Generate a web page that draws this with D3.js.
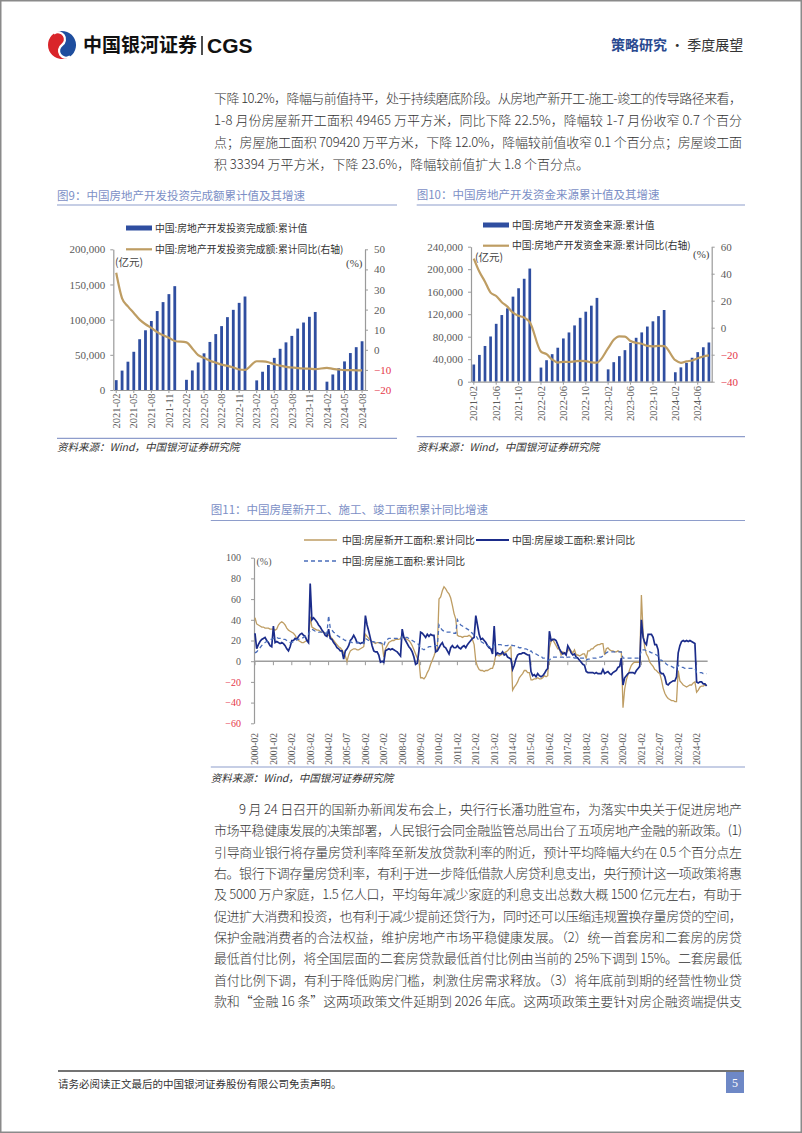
<!DOCTYPE html>
<html><head><meta charset="utf-8">
<script src="https://cdn.jsdelivr.net/npm/d3@7"></script>
<style>body{margin:0;background:#fff}svg{display:block}</style>
</head><body><svg id="c" width="802" height="1133"></svg>
<script>
// ---------------- DATA ----------------
const cats = ["2021-02","2021-03","2021-04","2021-05","2021-06","2021-07","2021-08","2021-09","2021-10","2021-11","2021-12",
"2022-01","2022-02","2022-03","2022-04","2022-05","2022-06","2022-07","2022-08","2022-09","2022-10","2022-11","2022-12",
"2023-01","2023-02","2023-03","2023-04","2023-05","2023-06","2023-07","2023-08","2023-09","2023-10","2023-11","2023-12",
"2024-01","2024-02","2024-03","2024-04","2024-05","2024-06","2024-07","2024-08"];
const investValue = [13986,27576,40240,54318,72179,84895,98060,112231,124934,136275,147602,
null,14499,27765,39154,52134,68314,79462,90809,103559,113945,123863,132895,
null,13669,25974,35514,45701,58550,67717,76900,87269,95922,104045,110913,
null,11842,22082,30928,40632,52529,60877,69284];
const investYoY = [38.3,25.6,21.6,18.3,15.0,12.7,10.9,8.8,7.2,6.0,4.4,
null,3.7,0.7,-2.7,-4.0,-5.4,-6.4,-7.4,-8.0,-8.8,-9.8,-10.0,
null,-5.7,-5.8,-6.2,-7.2,-7.9,-8.5,-8.8,-9.1,-9.3,-9.4,-9.6,
null,-9.0,-9.5,-9.8,-10.1,-10.1,-10.2,-10.2];
const fundsValue = [30563,47625,63508,80392,102898,118485,130400,151209,166134,182984,201132,
null,25143,38208,48934,60413,76880,87556,100033,113542,124455,135164,148979,
null,21962,34697,45425,56091,68797,78080,87616,98067,107345,116555,127459,
null,16803,25455,33508,42571,52546,61243,69740];
const fundsYoY = [51.2,41.4,34.1,26.0,23.5,18.9,15.6,11.1,8.8,7.5,4.2,
null,-17.7,-19.6,-23.6,-25.8,-25.3,-25.4,-25.0,-24.5,-24.7,-25.7,-25.9,
null,-15.2,-9.0,-6.4,-6.6,-9.8,-11.2,-11.9,-13.5,-13.8,-13.4,-13.6,
null,-24.1,-26.0,-24.9,-24.3,-22.6,-21.3,-20.5];
const ticks9 = ["2021-02","2021-05","2021-08","2021-11","2022-02","2022-05","2022-08","2022-11","2023-02","2023-05","2023-08","2023-11","2024-02","2024-05","2024-08"];
const ticks10 = ["2021-02","2021-06","2021-10","2022-02","2022-06","2022-10","2023-02","2023-06","2023-10","2024-02","2024-06"];

// Figure 11: monthly cumulative YoY (Feb..Dec each year, 2000-02 .. 2024-08)
const startsYoY = [
42,36,35,34,33,33,32,32,32,31,31,
31,30,31,35,37,38,37,35,32,30,29,
28,27,25,22,20,19,18,18,19,20,21,
43,33,32,31,30,30,29,28,28,27,26,
25,24,22,20,18,16,14,13,11,8,5,
0,6,10,11,12,12,11,11,12,13,14,
26,24,22,20,19,18,17,18,18,17,17,
4,12,15,18,19,20,20,21,21,21,22,
26,23,22,21,20,18,15,11,7,3,1,
-16,-16,-17,-15,-11,-8,-3,1,5,10,12,
60,62,68,72,70,67,65,61,54,46,41,
25,24,24,23,24,24,24,25,24,21,16,
0,-5,-8,-9,-9,-10,-9,-9,-8,-7,-7,
-2,7,6,5,6,7,8,9,10,12,14,
-28,-25,-23,-20,-16,-14,-12,-9,-9,-11,-11,
-18,-18,-17,-17,-16,-17,-17,-16,-14,-15,-14,
13,19,21,18,15,12,12,6,9,8,8,
10,12,10,8,11,6,6,5,6,7,7,
3,10,10,12,12,14,15,16,16,17,17,
6,12,13,11,10,10,9,9,10,9,9,
-45,-27,-18,-13,-8,-4,-2,-1,-1,-1,-1,
64,28,13,7,4,-1,-3,-5,-8,-9,-11,
-12,-18,-26,-31,-34,-36,-37,-38,-38,-39,-39,
-9,-19,-21,-23,-24,-25,-24,-23,-23,-21,-20,
-30,-28,-25,-24,-24,-23,-23];
const completedYoY = [
27,12,16,19,21,22,23,20,18,15,14,
34,18,19,18,17,18,17,15,12,10,14,
20,20,22,21,24,26,27,25,24,20,18,
75,40,42,40,38,35,33,30,28,25,24,
31,22,21,18,16,13,12,10,10,2,10,
12,15,20,22,25,22,18,18,17,18,18,
44,35,29,22,15,10,9,9,6,-1,0,
-1,10,11,12,11,12,11,10,9,7,5,
31,23,20,17,14,12,9,4,-3,-2,10,
28,27,25,23,26,24,26,25,25,9,10,
13,16,18,14,13,10,7,13,15,13,13,
15,13,12,14,15,13,16,18,20,22,23,
44,35,26,21,22,20,18,15,13,12,7,
34,6,8,7,7,9,6,7,4,3,2,
-8,-4,2,6,7,7,8,8,7,6,6,
-10,-14,-13,-15,-12,-14,-15,-14,-12,-9,-7,
29,20,21,21,20,16,12,9,7,8,6,
15,12,8,6,7,4,3,1,-1,-3,-4,
-10,-11,-11,-11,-11,-12,-11,-12,-12,-12,-8,
-12,-11,-10,-12,-13,-11,-10,-9,-6,-5,3,
-23,-16,-14,-12,-11,-11,-11,-12,-9,-7,-5,
40,23,18,16,26,26,26,23,16,16,11,
-10,-12,-12,-15,-22,-23,-21,-20,-19,-19,-15,
8,15,19,20,19,20,19,20,19,18,17,
-20,-21,-20,-20,-22,-22,-24];
const constructYoY = [
8,9,11,13,15,17,18,19,20,21,21,
22,22,23,22,22,22,21,21,20,19,18,
18,19,20,21,21,22,22,23,24,25,26,
30,31,30,29,29,28,28,28,27,27,27,
44,32,30,28,27,25,24,23,22,21,20,
20,19,19,18,18,18,18,18,18,18,17,
22,21,20,19,19,19,18,18,18,18,17,
15,20,21,22,22,22,22,22,22,21,21,
24,24,23,23,22,21,20,19,18,17,16,
12,12,11,12,13,14,14,15,15,15,15,
35,32,30,29,28,28,28,28,27,27,27,
40,37,35,34,33,32,31,30,28,27,25,
25,22,20,19,18,17,16,15,14,14,13,
16,16,16,16,16,15,15,15,15,16,16,
15,15,14,14,13,13,12,12,12,11,9,
10,8,8,7,6,5,5,3,3,2,1,
1,3,4,4,4,4,4,4,4,3,3,
4,4,4,4,3,3,3,3,3,3,3,
1,2,2,2,3,3,3,4,4,4,5,
7,8,9,9,9,9,9,9,9,9,9,
3,3,3,3,3,3,3,3,3,3,4,
11,11,11,10,10,9,8,8,7,6,5,
1,1,0,-1,-3,-4,-5,-5,-6,-7,-7,
-4,-5,-6,-6,-7,-7,-7,-7,-7,-7,-7,
-11,-11,-11,-11,-12,-12,-12];
const ticks11 = ["2000-02","2001-02","2002-02","2003-02","2004-02","2005-07","2006-02","2007-02","2008-02","2009-02","2010-02","2011-02","2012-02","2013-02","2014-02","2015-02","2016-02","2017-02","2018-02","2019-02","2020-02","2021-02","2022-07","2023-02","2024-02"];

// ---------------- STYLE ----------------
const CJK = "'Noto Sans CJK SC','Noto Sans',sans-serif";
const SERIF = "'Liberation Serif','DejaVu Serif',serif";
const BAR = "#2F4EA0", TAN = "#BE9D63", NAVY = "#1B2C8A", DASH = "#4A6DBA";
const AX = "#9a9a9a", LBL = "#5a5a5a", RED = "#E5374A", TITLE = "#7C8FC6", RULE = "#8E9DCB";

const svg = d3.select("#c");
svg.append("rect").attr("width",802).attr("height",1133).attr("fill","#fff");
svg.append("rect").attr("x",0.75).attr("y",0.75).attr("width",800.5).attr("height",1131.5)
  .attr("fill","none").attr("stroke","#8a8a8a").attr("stroke-width",1.5);

// ---------------- HEADER ----------------
const logo = svg.append("g").attr("transform","translate(62,45) rotate(-35)");
logo.append("path").attr("d","M0,-14 A14,14 0 0,0 0,14 A7,7 0 0,1 0,0 A7,7 0 0,0 0,-14 Z").attr("fill","#D9252A");
logo.append("path").attr("d","M0,-14 A14,14 0 0,1 0,14 A7,7 0 0,1 0,0 A7,7 0 0,0 0,-14 Z").attr("fill","#1F4E9E");
logo.append("path").attr("d","M0,-14 A7,7 0 0,1 0,0 A7,7 0 0,0 0,14").attr("fill","none").attr("stroke","#fff").attr("stroke-width",2.2);
svg.append("text").attr("x",83).attr("y",52).text("中国银河证券")
  .attr("font-family",CJK).attr("font-weight",700).attr("font-size",19).attr("fill","#111");
svg.append("line").attr("x1",202).attr("x2",202).attr("y1",36).attr("y2",55).attr("stroke","#222").attr("stroke-width",1.6);
svg.append("text").attr("x",207).attr("y",53).text("CGS")
  .attr("font-family","'Liberation Sans',Arial,sans-serif").attr("font-weight",700).attr("font-size",21).attr("fill","#111");
const hr = svg.append("text").attr("x",611).attr("y",50).attr("font-family",CJK).attr("font-size",14);
hr.append("tspan").text("策略研究").attr("font-weight",700).attr("fill","#2A4A90");
hr.append("tspan").text(" · 季度展望").attr("fill","#333");

// ---------------- BODY TEXT ----------------
function para(lines, y0, step, lastJustified){
  lines.forEach((l,i)=>{
    const t = svg.append("text").attr("x", l.x).attr("y", y0 + i*step).text(l.s)
      .attr("font-family",CJK).attr("font-size",13).attr("font-weight",300).attr("fill","#333");
    if (i < lines.length-1 || lastJustified) t.attr("textLength", 742 - l.x).attr("lengthAdjust","spacing");
  });
}
para([
 {x:214,s:"下降 10.2%，降幅与前值持平，处于持续磨底阶段。从房地产新开工-施工-竣工的传导路径来看，"},
 {x:214,s:"1-8 月份房屋新开工面积 49465 万平方米，同比下降 22.5%，降幅较 1-7 月份收窄 0.7 个百分"},
 {x:214,s:"点；房屋施工面积 709420 万平方米，下降 12.0%，降幅较前值收窄 0.1 个百分点；房屋竣工面"},
 {x:214,s:"积 33394 万平方米，下降 23.6%，降幅较前值扩大 1.8 个百分点。"}
], 103, 21.9, false);
para([
 {x:239,s:"9 月 24 日召开的国新办新闻发布会上，央行行长潘功胜宣布，为落实中央关于促进房地产"},
 {x:214,s:"市场平稳健康发展的决策部署，人民银行会同金融监管总局出台了五项房地产金融的新政策。(1)"},
 {x:214,s:"引导商业银行将存量房贷利率降至新发放贷款利率的附近，预计平均降幅大约在 0.5 个百分点左"},
 {x:214,s:"右。银行下调存量房贷利率，有利于进一步降低借款人房贷利息支出，央行预计这一项政策将惠"},
 {x:214,s:"及 5000 万户家庭，1.5 亿人口，平均每年减少家庭的利息支出总数大概 1500 亿元左右，有助于"},
 {x:214,s:"促进扩大消费和投资，也有利于减少提前还贷行为，同时还可以压缩违规置换存量房贷的空间，"},
 {x:214,s:"保护金融消费者的合法权益，维护房地产市场平稳健康发展。（2）统一首套房和二套房的房贷"},
 {x:214,s:"最低首付比例，将全国层面的二套房贷款最低首付比例由当前的 25%下调到 15%。二套房最低"},
 {x:214,s:"首付比例下调，有利于降低购房门槛，刺激住房需求释放。（3）将年底前到期的经营性物业贷"},
 {x:214,s:"款和“金融 16 条”这两项政策文件延期到 2026 年底。这两项政策主要针对房企融资端提供支"}
], 813.8, 21.37, true);

// ---------------- COMMON PIECES ----------------
function titleBlock(x, y, x2, uy, s){
  svg.append("text").attr("x",x).attr("y",y).text(s).attr("font-family",CJK).attr("font-size",11.5).attr("fill",TITLE);
  svg.append("line").attr("x1",x).attr("x2",x2).attr("y1",uy).attr("y2",uy).attr("stroke",RULE).attr("stroke-width",1.2);
}
function sourceBlock(x, x2, ly, ty){
  svg.append("line").attr("x1",x).attr("x2",x2).attr("y1",ly).attr("y2",ly).attr("stroke",RULE).attr("stroke-width",1.2);
  svg.append("text").attr("x",x).attr("y",ty).text("资料来源：Wind，中国银河证券研究院")
    .attr("font-family",CJK).attr("font-size",10.5).attr("font-style","italic").attr("fill","#333");
}
function styleAxis(g, redNeg){
  g.attr("font-family",SERIF).attr("font-size",11);
  g.select(".domain").attr("stroke",AX).attr("stroke-width",1.2);
  g.selectAll(".tick line").attr("stroke",AX);
  g.selectAll(".tick text").attr("fill",d => (redNeg && d < 0) ? RED : LBL);
}
function legendText(x, y, s){
  svg.append("text").attr("x",x).attr("y",y).text(s).attr("font-family",CJK).attr("font-size",9.8).attr("fill","#333");
}

// ---------------- COMBO CHARTS (Fig 9, Fig 10) ----------------
function combo(o){
  const x = d3.scaleBand().domain(cats).range([o.L,o.R]).paddingInner(0.52).paddingOuter(0.26);
  const yL = d3.scaleLinear().domain(o.yLd).range([o.B,o.T]);
  const yR = d3.scaleLinear().domain(o.yRd).range([o.B,o.T]);
  const g = svg.append("g");
  const bars = cats.map((c,i)=>({c, v:o.bars[i]})).filter(d=>d.v!=null);
  g.selectAll("rect").data(bars).join("rect")
    .attr("x",d=>x(d.c)).attr("width",x.bandwidth()).attr("y",d=>yL(d.v)).attr("height",d=>yL(0)-yL(d.v)).attr("fill",BAR);
  const pts = cats.map((c,i)=>({c, v:o.line[i]})).filter(d=>d.v!=null);
  g.append("path").datum(pts).attr("fill","none").attr("stroke",TAN).attr("stroke-width",2.2)
    .attr("d", d3.line().x(d=>x(d.c)+x.bandwidth()/2).y(d=>yR(d.v)).curve(d3.curveMonotoneX));
  const la = svg.append("g").attr("transform",`translate(${o.L},0)`)
    .call(d3.axisLeft(yL).tickValues(o.yLt).tickFormat(d3.format(",")).tickSizeInner(3).tickSizeOuter(0).tickPadding(5));
  styleAxis(la,false);
  const ra = svg.append("g").attr("transform",`translate(${o.R},0)`)
    .call(d3.axisRight(yR).tickValues(o.yRt).tickSizeInner(3).tickSizeOuter(0).tickPadding(6));
  styleAxis(ra,true);
  const ba = svg.append("g").attr("transform",`translate(0,${o.B})`)
    .call(d3.axisBottom(x).tickValues(o.xt).tickSizeInner(3).tickSizeOuter(0).tickFormat(""));
  styleAxis(ba,false);
  svg.append("g").selectAll("text").data(o.xt).join("text")
    .attr("transform",d=>`translate(${x(d)+x.bandwidth()/2},${o.xly}) rotate(-90)`)
    .attr("text-anchor","end").attr("dy","0.35em").text(d=>d)
    .attr("font-family",SERIF).attr("font-size",10.5).attr("fill",LBL);
  // unit labels
  svg.append("text").attr("x",o.ux).attr("y",o.uy).text("(亿元)").attr("font-family",CJK).attr("font-size",10.5).attr("fill","#444");
  svg.append("text").attr("x",o.px).attr("y",o.py).text("(%)").attr("font-family",SERIF).attr("font-size",11).attr("fill","#444");
  // legend
  svg.append("rect").attr("x",o.lgx).attr("y",o.lg1-2.5).attr("width",26).attr("height",5).attr("fill",BAR);
  legendText(o.lgx+29, o.lg1+3.5, o.leg1);
  svg.append("line").attr("x1",o.lgx).attr("x2",o.lgx+26).attr("y1",o.lg2).attr("y2",o.lg2).attr("stroke",TAN).attr("stroke-width",2.2);
  legendText(o.lgx+29, o.lg2+3.5, o.leg2);
}

titleBlock(57, 200, 397, 205, "图9：中国房地产开发投资完成额累计值及其增速");
combo({L:113.3,R:365,T:249.3,B:390, bars:investValue, line:investYoY,
  yLd:[0,200000], yLt:[0,50000,100000,150000,200000], yRd:[-20,50], yRt:[-20,-10,0,10,20,30,40,50],
  xt:ticks9, xly:393.5, ux:115, uy:266, px:346, py:267,
  lgx:126, lg1:228, lg2:249.3,
  leg1:"中国:房地产开发投资完成额:累计值", leg2:"中国:房地产开发投资完成额:累计同比(右轴)"});
sourceBlock(57, 397, 438.3, 451);

titleBlock(416.7, 199, 745, 205, "图10：中国房地产开发资金来源累计值及其增速");
combo({L:471,R:711.7,T:246.7,B:381.7, bars:fundsValue, line:fundsYoY,
  yLd:[0,240000], yLt:[0,40000,80000,120000,160000,200000,240000], yRd:[-40,60], yRt:[-40,-20,0,20,40,60],
  xt:ticks10, xly:386, ux:475, uy:261, px:693, py:258,
  lgx:483, lg1:225, lg2:245.7,
  leg1:"中国:房地产开发资金来源:累计值", leg2:"中国:房地产开发资金来源:累计同比(右轴)"});
sourceBlock(416.7, 745, 436.7, 451);

// ---------------- FIG 11 ----------------
titleBlock(210.8, 514, 745, 520.5, "图11：中国房屋新开工、施工、竣工面积累计同比增速");
const periods = [];
for (let y = 2000; y <= 2024; y++) for (let m = 2; m <= 12; m++) { if (y === 2024 && m > 8) break; periods.push({y, m}); }
const pos = p => (p.y - 2000) + (p.m - 2) / 11;
const x11 = d3.scaleLinear().domain([0,24]).range([255,696.6]);
const y11 = d3.scaleLinear().domain([-60,100]).range([723.3,557.7]);
const g11 = svg.append("g");
const ya = g11.append("g").attr("transform","translate(254,0)")
  .call(d3.axisLeft(y11).tickValues([-60,-40,-20,0,20,40,60,80,100]).tickSizeInner(3).tickSizeOuter(0).tickPadding(10));
styleAxis(ya,true); ya.attr("font-size",10);
g11.append("line").attr("x1",254).attr("x2",x11(pos(periods[periods.length-1]))+1).attr("y1",y11(0)).attr("y2",y11(0))
  .attr("stroke","#9d9d9d").attr("stroke-width",1.6);
g11.append("g").selectAll("line").data(ticks11).join("line")
  .attr("x1",(d,i)=>x11(i)).attr("x2",(d,i)=>x11(i)).attr("y1",y11(0)).attr("y2",y11(0)+4).attr("stroke",AX);
g11.append("g").selectAll("text").data(ticks11).join("text")
  .attr("transform",(d,i)=>`translate(${x11(i)},733) rotate(-90)`)
  .attr("text-anchor","end").attr("dy","0.35em").text(d=>d)
  .attr("font-family",SERIF).attr("font-size",9.5).attr("fill",LBL);
g11.append("text").attr("x",256.5).attr("y",565).text("(%)").attr("font-family",SERIF).attr("font-size",10).attr("fill","#555");
const line11 = arr => d3.line().x((d,i)=>x11(pos(periods[i]))).y(d=>y11(d))(arr);
g11.append("path").attr("d",line11(startsYoY)).attr("fill","none").attr("stroke",TAN).attr("stroke-width",1.3);
g11.append("path").attr("d",line11(completedYoY)).attr("fill","none").attr("stroke",NAVY).attr("stroke-width",1.7);
g11.append("path").attr("d",line11(constructYoY)).attr("fill","none").attr("stroke",DASH).attr("stroke-width",1.3).attr("stroke-dasharray","4,3");
// legend
g11.append("line").attr("x1",304).attr("x2",337).attr("y1",540).attr("y2",540).attr("stroke",TAN).attr("stroke-width",1.6);
legendText(342, 543.5, "中国:房屋新开工面积:累计同比");
g11.append("line").attr("x1",476).attr("x2",509).attr("y1",540).attr("y2",540).attr("stroke",NAVY).attr("stroke-width",2);
legendText(512, 543.5, "中国:房屋竣工面积:累计同比");
g11.append("line").attr("x1",304).attr("x2",338).attr("y1",561).attr("y2",561).attr("stroke",DASH).attr("stroke-width",1.5).attr("stroke-dasharray","4,3");
legendText(342, 564.5, "中国:房屋施工面积:累计同比");
sourceBlock(210.8, 745, 767, 782);

// ---------------- FOOTER ----------------
svg.append("line").attr("x1",58).attr("x2",744).attr("y1",1071).attr("y2",1071).attr("stroke","#444").attr("stroke-width",1.3);
svg.append("text").attr("x",58).attr("y",1088).text("请务必阅读正文最后的中国银河证券股份有限公司免责声明。")
  .attr("font-family",CJK).attr("font-size",10.5).attr("fill","#333");
svg.append("rect").attr("x",726).attr("y",1072).attr("width",18).attr("height",21).attr("fill","#6E88C6");
svg.append("text").attr("x",735).attr("y",1087).attr("text-anchor","middle").text("5")
  .attr("font-family",SERIF).attr("font-size",12).attr("fill","#fff");
</script></body></html>
